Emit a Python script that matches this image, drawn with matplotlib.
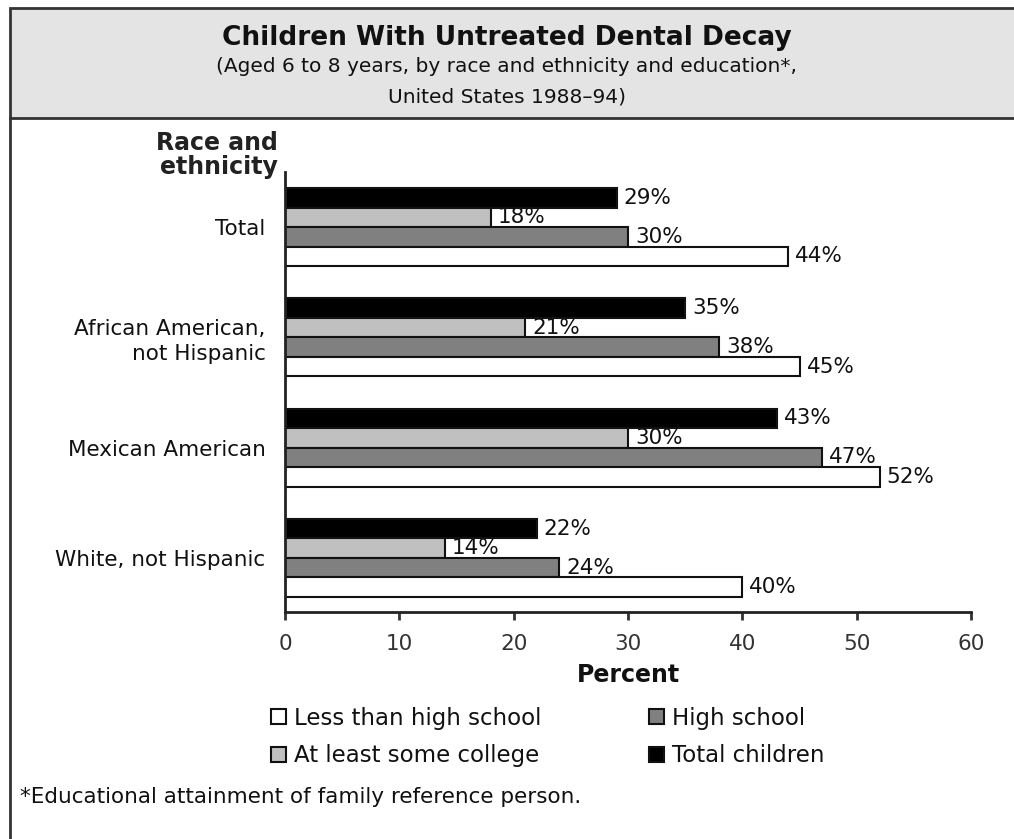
import numpy as np
import matplotlib.pyplot as plt
from matplotlib.patches import Rectangle

plt.rcParams['font.family'] = ['DejaVu Sans']

grupos = ['Total', 'African American,\nnot Hispanic', 'Mexican American', 'White, not Hispanic']
series = ['Total children', 'At least some college', 'High school', 'Less than high school']
total_criancas = [29, 35, 43, 22]
alguma_faculdade = [18, 21, 30, 14]
ensino_medio = [30, 38, 47, 24]
menos_medio = [44, 45, 52, 40]

valores = [total_criancas, alguma_faculdade, ensino_medio, menos_medio]
cores = ['#000000', '#c0c0c0', '#808080', '#ffffff']

fig = plt.figure(figsize=(10.14, 8.39), dpi=100)

# moldura: caixa do titulo cinza e linha da esquerda
fig.patches.append(Rectangle((10/1014, 1 - 118/839), 1.1, 110/839, transform=fig.transFigure,
                             facecolor='#e4e4e4', edgecolor='#333333', linewidth=2, zorder=0))
fig.lines.append(plt.Line2D([10/1014, 10/1014], [0, 1 - 118/839], transform=fig.transFigure,
                            color='#333333', linewidth=2))

fig.text(0.5, 1 - 38/839, 'Children With Untreated Dental Decay', ha='center', va='center',
         fontsize=19, fontweight='bold', color='#111111')
fig.text(0.5, 1 - 66/839, '(Aged 6 to 8 years, by race and ethnicity and education*,',
         ha='center', va='center', fontsize=14.5, color='#111111')
fig.text(0.5, 1 - 97/839, 'United States 1988\u201394)',
         ha='center', va='center', fontsize=14.5, color='#111111')

ax = fig.add_axes([285/1014, 1 - 612/839, 686/1014, 440/839])

altura = 1.0
passo = 5.64
topo = 0.82
barras = []
for k, (vals, cor, nome) in enumerate(zip(valores, cores, series)):
    ys = [topo + passo * g + k + 0.5 for g in range(len(grupos))]
    b = ax.barh(ys, vals, height=altura, color=cor, edgecolor='#111111', linewidth=1.5, label=nome)
    barras.append(b)
    for y, v in zip(ys, vals):
        ax.annotate(f'{v}%', (v, y), xytext=(5, 0), textcoords='offset points',
                    ha='left', va='center', fontsize=15.5, color='#111111')

ax.set_xlim(0, 60)
ax.set_ylim(topo * 2 + passo * 3 + 4 - 0.05, 0)
ax.set_xticks(range(0, 61, 10))
ax.set_yticks([topo + passo * g + 2 for g in range(len(grupos))])
ax.set_yticklabels(grupos, fontsize=15.5, color='#111111', linespacing=1.3)
ax.tick_params(axis='y', length=0, pad=14)
ax.tick_params(axis='x', direction='out', length=6, width=2, color='#333333',
               labelsize=15.5, labelcolor='#333333', pad=10)
for lado in ['top', 'right']:
    ax.spines[lado].set_visible(False)
for lado in ['left', 'bottom']:
    ax.spines[lado].set_linewidth(2)
    ax.spines[lado].set_color('#222222')
ax.set_xlabel('Percent', fontsize=17, fontweight='bold', labelpad=6, color='#111111')

fig.text(278/1014, 1 - 155/839, 'Race and\nethnicity', ha='right', va='center',
         fontsize=17, fontweight='bold', color='#222222', linespacing=1.05)

ordem = [barras[3], barras[1], barras[2], barras[0]]
fig.legend(ordem, [b.get_label() for b in ordem], ncol=2, frameon=False,
           loc='center left', bbox_to_anchor=(250/1014, 1 - 737/839),
           handlelength=0.65, handleheight=0.65, handletextpad=0.35,
           columnspacing=4.7, labelspacing=0.65, fontsize=16.5, labelcolor='#111111')

fig.text(20/1014, 1 - 797/839, '*Educational attainment of family reference person.',
         ha='left', va='center', fontsize=15.5, color='#111111')

fig.savefig('out.png', dpi=100)
